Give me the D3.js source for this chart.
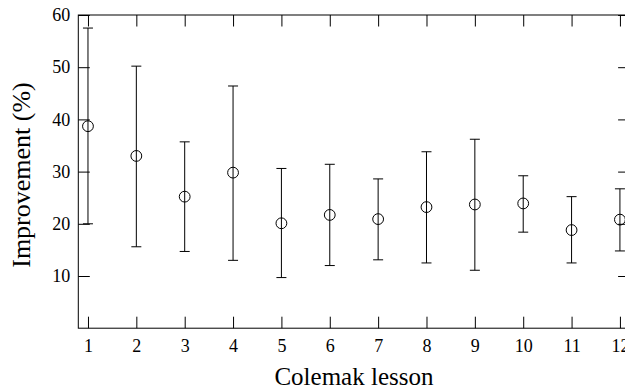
<!DOCTYPE html>
<html>
<head>
<meta charset="utf-8">
<script src="https://cdn.jsdelivr.net/npm/d3@7/dist/d3.min.js"></script>
<style>
  html, body { margin: 0; padding: 0; background: #fff; }
  svg { display: block; }
  text { font-family: "Liberation Serif", "DejaVu Serif", serif; fill: #000; }
</style>
</head>
<body>
<svg id="chart" width="625" height="388"></svg>
<script>
// Data
const lessons = [1, 2, 3, 4, 5, 6, 7, 8, 9, 10, 11, 12];
const means   = [38.7, 33.0, 25.2, 29.8, 20.1, 21.7, 20.9, 23.2, 23.7, 23.9, 18.8, 20.8];
const uppers  = [57.5, 50.2, 35.7, 46.4, 30.6, 31.4, 28.6, 33.8, 36.2, 29.2, 25.2, 26.7];
const lowers  = [20.0, 15.6, 14.7, 13.0, 9.7, 12.0, 13.1, 12.5, 11.1, 18.4, 12.5, 14.8];
const yTicks  = [10, 20, 30, 40, 50, 60];
const xTitle  = "Colemak lesson";
const yTitle  = "Improvement (%)";

(function () {
const svg = d3.select("#chart");
const pLeft = 78.3, pRight = 629.6, pTop = 15, pBottom = 328.2;
const tickLen = 11.5;
const serif = '"Liberation Serif", "DejaVu Serif", serif';

const x = d3.scaleLinear().domain([0.8, 12.2]).range([pLeft, pRight]);
const y = d3.scaleLinear().domain([0, 60]).range([pBottom, pTop]);

// Bottom axis (ticks inward)
svg.append("g")
  .attr("transform", `translate(0,${pBottom})`)
  .call(d3.axisBottom(x).tickValues(lessons).tickFormat(d3.format("d"))
        .tickSizeInner(-tickLen).tickSizeOuter(0).tickPadding(11.5))
  .attr("font-family", null).attr("font-size", null)
  .call(g => g.select(".domain").remove())
  .call(g => g.selectAll("line").attr("stroke", "#000"))
  .call(g => g.selectAll("text").style("font-size", "18px").style("font-family", serif));

// Top axis ticks (no labels)
svg.append("g")
  .attr("transform", `translate(0,${pTop})`)
  .call(d3.axisTop(x).tickValues(lessons).tickFormat("")
        .tickSizeInner(-tickLen).tickSizeOuter(0))
  .call(g => g.select(".domain").remove())
  .call(g => g.selectAll("line").attr("stroke", "#000"));

// Left axis
svg.append("g")
  .attr("transform", `translate(${pLeft},0)`)
  .call(d3.axisLeft(y).tickValues(yTicks).tickFormat(d3.format("d"))
        .tickSizeInner(-tickLen).tickSizeOuter(0).tickPadding(8))
  .attr("font-family", null).attr("font-size", null)
  .call(g => g.select(".domain").remove())
  .call(g => g.selectAll("line").attr("stroke", "#000"))
  .call(g => g.selectAll("text").style("font-size", "18px").style("font-family", serif));

// Right axis ticks
svg.append("g")
  .attr("transform", `translate(${pRight},0)`)
  .call(d3.axisRight(y).tickValues(yTicks).tickFormat("")
        .tickSizeInner(-tickLen).tickSizeOuter(0))
  .call(g => g.select(".domain").remove())
  .call(g => g.selectAll("line").attr("stroke", "#000"));

// Frame
svg.append("rect")
  .attr("x", pLeft).attr("y", pTop)
  .attr("width", pRight - pLeft).attr("height", pBottom - pTop)
  .attr("fill", "none").attr("stroke", "#000").attr("stroke-width", 1);

// Error bars
const data = lessons.map((l, i) => ({ l, m: means[i], hi: uppers[i], lo: lowers[i] }));
const capW = 5;
const eb = svg.append("g").attr("stroke", "#000").attr("stroke-width", 1).attr("fill", "none");
eb.selectAll("line.v").data(data).join("line").attr("class", "v")
  .attr("x1", d => x(d.l)).attr("x2", d => x(d.l))
  .attr("y1", d => y(d.hi)).attr("y2", d => y(d.lo));
eb.selectAll("line.hi").data(data).join("line").attr("class", "hi")
  .attr("x1", d => x(d.l) - capW).attr("x2", d => x(d.l) + capW)
  .attr("y1", d => y(d.hi)).attr("y2", d => y(d.hi));
eb.selectAll("line.lo").data(data).join("line").attr("class", "lo")
  .attr("x1", d => x(d.l) - capW).attr("x2", d => x(d.l) + capW)
  .attr("y1", d => y(d.lo)).attr("y2", d => y(d.lo));

// Markers (open circles)
eb.selectAll("circle").data(data).join("circle")
  .attr("cx", d => x(d.l)).attr("cy", d => y(d.m)).attr("r", 5.4);

// Axis titles
svg.append("text")
  .attr("x", (pLeft + pRight) / 2).attr("y", 384.5)
  .attr("text-anchor", "middle").style("font-size", "25px")
  .text(xTitle);

svg.append("text")
  .attr("transform", `translate(29.5,${(272 + 78) / 2}) rotate(-90)`)
  .attr("text-anchor", "middle").style("font-size", "26px")
  .text(yTitle);
})();
</script>
</body>
</html>
